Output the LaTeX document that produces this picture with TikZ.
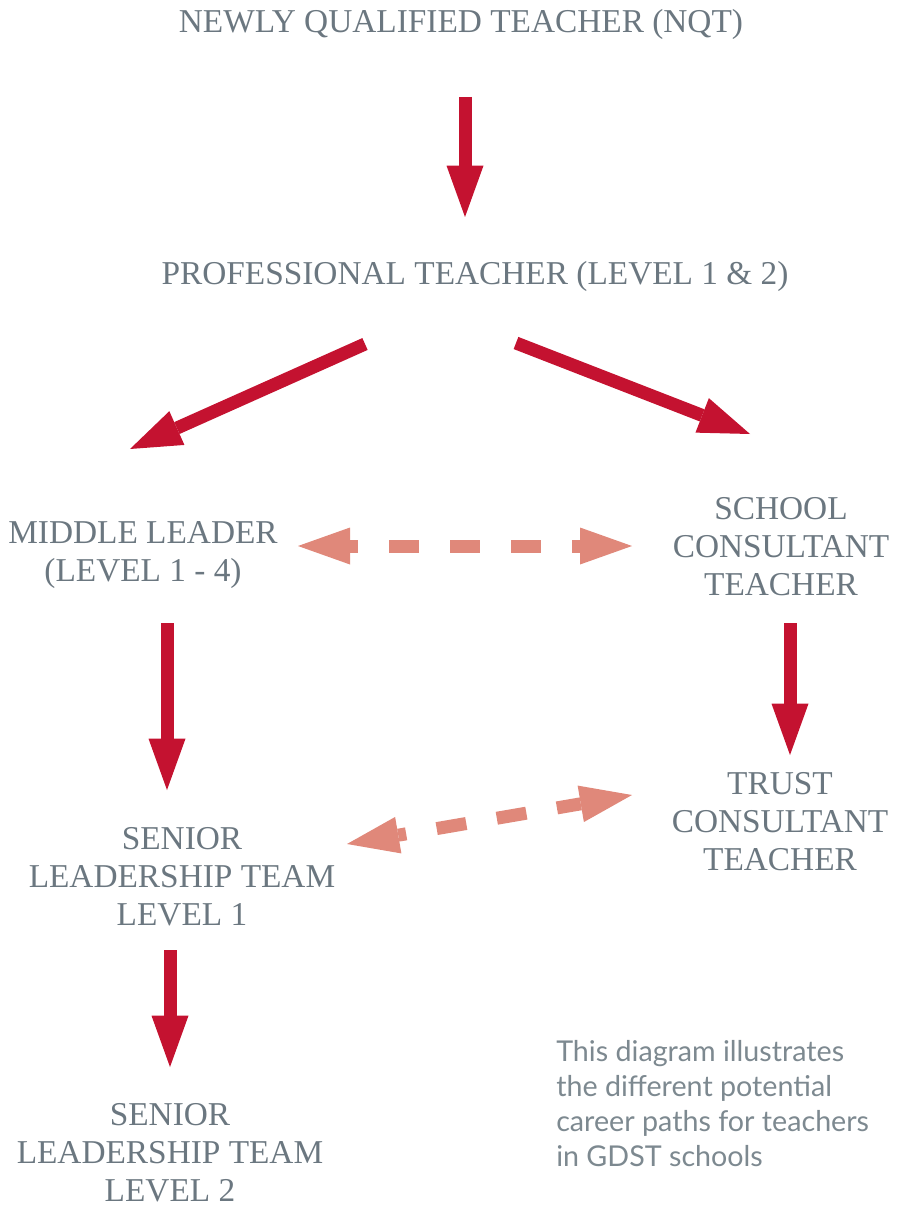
\documentclass[tikz,border=0pt]{standalone}
\usepackage{fontspec}
\setmainfont{Liberation Serif}
\newfontfamily\notefont{Lato}
\usetikzlibrary{arrows.meta}
\definecolor{gdstred}{HTML}{C41230}
\definecolor{gdstpink}{HTML}{E0887A}
\definecolor{gdstgrey}{HTML}{6B7780}
\definecolor{notegrey}{HTML}{7D8990}
\tikzset{
  stage/.style={text=gdstgrey,font=\fontsize{25}{28.5}\selectfont,align=center,inner sep=0pt,anchor=base},
  note/.style={text=notegrey,font=\notefont\fontsize{21.5}{26.25}\selectfont,align=left,inner sep=0pt,anchor=base west},
  route/.style={draw=gdstred,line width=9.75pt,-{Triangle[length=38.5pt,width=27.75pt,line width=0pt]}},
  link/.style={draw=gdstpink,line width=9.75pt,dash pattern=on 22.5pt off 23.25pt,dash phase=16.5pt,
    {Triangle[length=39pt,width=27.75pt,line width=0pt]}-{Triangle[length=39pt,width=27.75pt,line width=0pt]}}
}

\begin{document}
\begin{tikzpicture}[x=0.75pt,y=-0.75pt]
  \useasboundingbox (0,0) rectangle (896,1205);

  % stages (base = last line)
  \node[stage] (nqt) at (461,33) {NEWLY QUALIFIED TEACHER (NQT)};
  \node[stage] (prof) at (475,285) {PROFESSIONAL TEACHER (LEVEL 1 \& 2)};
  \node[stage] (mid) at (143,581) {MIDDLE LEADER\\(LEVEL 1 - 4)};
  \node[stage] (scc) at (781,595) {SCHOOL\\CONSULTANT\\TEACHER};
  \node[stage] (tcc) at (780,870) {TRUST\\CONSULTANT\\TEACHER};
  \node[stage] (slt1) at (182,925) {SENIOR\\LEADERSHIP TEAM\\LEVEL 1};
  \node[stage] (slt2) at (170,1201) {SENIOR\\LEADERSHIP TEAM\\LEVEL 2};
  \node[note] (note) at (556,1166) {This diagram illustrates\\the different potential\\career paths for teachers\\in GDST schools};

  % career paths
  \draw[route] ([shift={(4,64)}]nqt.base) -- ([shift={(-10,-68)}]prof.base);
  \draw[route] ([shift={(-110,59)}]prof.base) -- ([shift={(-13,-132)}]mid.base);
  \draw[route] ([shift={(41,58)}]prof.base) -- ([shift={(-31,-161)}]scc.base);
  \draw[route] ([shift={(24,42)}]mid.base) -- ([shift={(-15,-135)}]slt1.base);
  \draw[route] ([shift={(9,28)}]scc.base) -- ([shift={(10,-115)}]tcc.base);
  \draw[route] ([shift={(-12,25)}]slt1.base) -- ([shift={(0,-134)}]slt2.base);

  % moves between paths
  \draw[link] ([shift={(155,-35)}]mid.base) -- ([shift={(-149,-49)}]scc.base);
  \draw[link] ([shift={(165,-81)}]slt1.base) -- ([shift={(-148,-75)}]tcc.base);
\end{tikzpicture}
\end{document}
